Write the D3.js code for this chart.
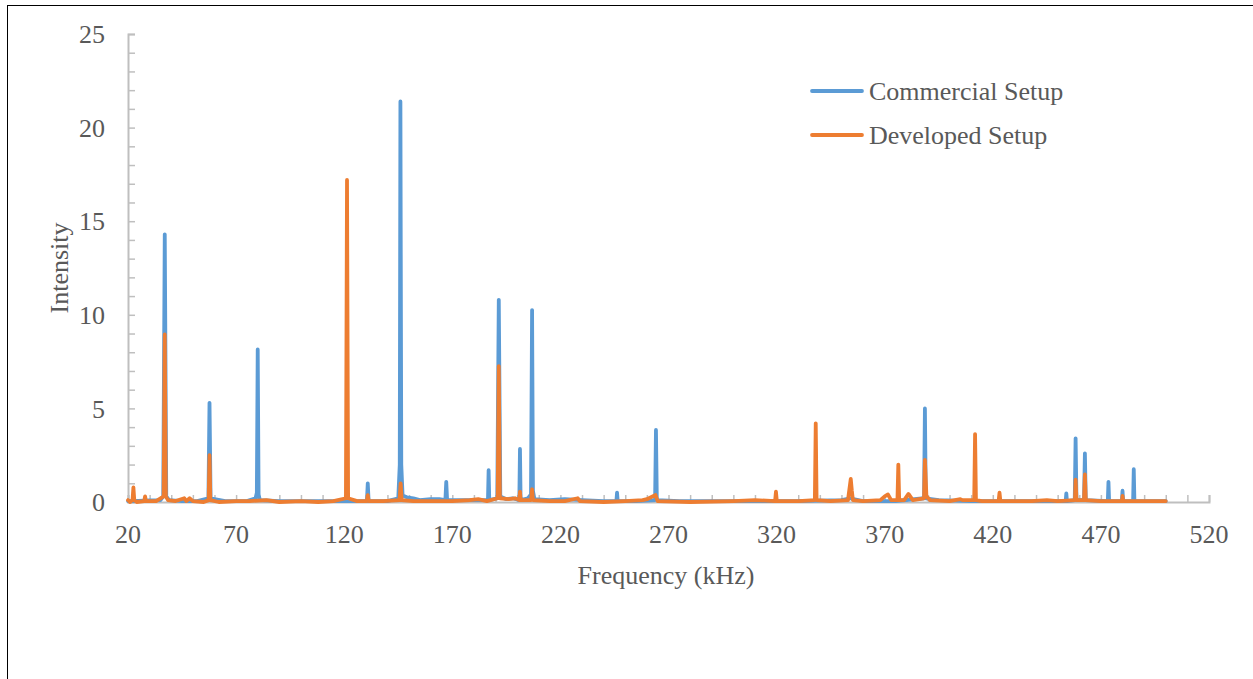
<!DOCTYPE html>
<html>
<head>
<meta charset="utf-8">
<script src="https://cdn.jsdelivr.net/npm/d3@7/dist/d3.min.js"></script>
<style>
  html, body { margin: 0; padding: 0; background: #fff; }
  svg text { font-family: "Liberation Serif", "Times New Roman", serif; fill: #595959; }
</style>
</head>
<body>
<svg id="chart" width="1253" height="679"></svg>
<script>
// ---- Data ----
const seriesNames = ["Commercial Setup", "Developed Setup"];
const xTickLabels = [20, 70, 120, 170, 220, 270, 320, 370, 420, 470, 520];
const yTickLabels = [0, 5, 10, 15, 20, 25];

const commercialFreq = [20,22,30,35,36.3,37,37.7,39,45,52,57.2,57.7,58.2,65,75,79,79.6,80,80.4,81,90,100,110,120,
  130.5,130.9,131.3,140,145,145.7,146,146.4,147,149,152,155,160,164,166.8,167.2,167.6,175,180,186.5,186.8,187.1,
  190.8,191.5,192.2,195,198,201,201.3,201.6,205,206.4,206.9,207.3,208,215,222,230,240,245.9,246.2,246.5,255,
  263.8,264.2,264.6,275,290,310,330,350,354,360,375,388.2,388.6,389,395,410,420,440,453.7,454,454.3,457.9,458.3,
  458.7,462.2,462.6,463,473.2,473.5,473.8,479.7,480,480.3,484.9,485.2,485.5,490,500];
const commercialVal = [0.05,0.05,0.08,0.1,0.3,14.3,0.3,0.1,0.05,0.05,0.2,5.3,0.2,0.05,0.05,0.2,0.5,8.15,0.4,0.1,0.05,0.05,0.05,0.05,
  0.05,1.0,0.05,0.05,0.2,2,21.4,2,0.35,0.25,0.2,0.1,0.15,0.15,0.1,1.08,0.1,0.1,0.1,0.1,1.7,0.1,
  0.2,10.8,0.3,0.15,0.2,0.1,2.83,0.1,0.2,0.4,10.25,0.6,0.15,0.1,0.15,0.1,0.05,0.05,0.5,0.05,0.05,
  0.1,3.85,0.1,0.05,0.05,0.05,0.05,0.1,0.2,0.05,0.05,0.2,5.0,0.2,0.1,0.05,0.05,0.05,0.05,0.46,0.05,0.1,3.4,
  0.1,0.1,2.6,0.1,0.05,1.08,0.05,0.05,0.6,0.05,0.05,1.75,0.05,0.05,0.05];

const developedFreq = [20,21,22.1,22.5,22.9,24,27.5,27.9,28.3,33,36.5,37,37.5,38.5,42,46,47,48.5,50,55,57.3,57.7,58.1,62,70,76,84,90,
  100,108,115,120.8,121.3,121.8,126,130.5,130.9,131.3,138,145.6,146.1,146.6,152,160,170,178,182,186,191,191.5,192,196,199,201,
  201.3,201.6,206.5,206.9,207.3,215,222,228,229,240,250,258,260,264,265,280,300,310,319.3,319.7,320.1,330,337.7,338.1,338.5,345,
  353,354.3,354.8,355.3,360,368,370,371.5,373,375.9,376.3,376.7,379,381,383,388.2,388.6,389.3,391,400,405,406,411.4,411.8,412.2,
  415,422.7,423.1,423.5,430,438,445,450,458,458.3,458.7,462.2,462.6,463,470,479.8,480,480.3,490,500];
const developedVal = [0.1,0,0.1,0.78,0.1,0,0.05,0.3,0.05,0.05,0.3,8.95,0.3,0.1,0.05,0.2,0.05,0.2,0.05,0,0.1,2.5,0.1,0,0.05,0.05,0.1,0,
  0.05,0,0.05,0.2,17.2,0.2,0.05,0.05,0.37,0.05,0.05,0.1,1.0,0.1,0.05,0.05,0.05,0.1,0.15,0.05,0.2,7.26,0.2,0.15,0.2,0.1,
  0.55,0.1,0.1,0.68,0.1,0.05,0.05,0.2,0.05,0,0.05,0.1,0.15,0.37,0.05,0,0.05,0.1,0.05,0.55,0.05,0.05,0.1,4.2,0.1,0.05,
  0.1,1.23,0.6,0.1,0.05,0.1,0.3,0.4,0.1,0.1,2.0,0.1,0.1,0.43,0.1,0.2,2.25,0.3,0.1,0.05,0.15,0.1,0.1,3.63,0.1,
  0.05,0.05,0.5,0.05,0.05,0.05,0.1,0.05,0.1,1.2,0.1,0.1,1.48,0.1,0.05,0.05,0.32,0.05,0.05,0.05];

const colors = ["#5B9BD5", "#ED7D31"];

// ---- Layout ----
const svg = d3.select("#chart");
const x = d3.scaleLinear().domain([20, 520]).range([128, 1209]);
const y = d3.scaleLinear().domain([0, 25]).range([502, 34]);
const fs = 26;

// outer border (top + left)
svg.append("line").attr("x1", 7).attr("x2", 1253).attr("y1", 5.5).attr("y2", 5.5).attr("stroke", "#000").attr("stroke-width", 1);
svg.append("line").attr("x1", 7.5).attr("x2", 7.5).attr("y1", 5).attr("y2", 679).attr("stroke", "#000").attr("stroke-width", 1);

const axisColor = "#BFBFBF";

// y axis: ticks every 1 unit, pointing right
const yAxis = d3.axisRight(y).tickValues(d3.range(0, 26)).tickSize(7).tickFormat("");
const gy = svg.append("g").attr("transform", "translate(128,0)").call(yAxis);
gy.select(".domain").attr("stroke", axisColor).attr("stroke-width", 2);
gy.selectAll(".tick line").attr("stroke", axisColor).attr("stroke-width", 1.5);

// y tick labels
svg.append("g").selectAll("text").data(yTickLabels).join("text")
  .attr("x", 105).attr("y", d => y(d)).attr("dy", "0.35em")
  .attr("text-anchor", "end").attr("font-size", fs).text(d => d);

// x axis: ticks every 10, pointing up
const xAxis = d3.axisTop(x).tickValues(d3.range(20, 521, 10)).tickSize(7).tickFormat("");
const gx = svg.append("g").attr("transform", "translate(0,502)").call(xAxis);
gx.select(".domain").attr("stroke", axisColor).attr("stroke-width", 2);
gx.selectAll(".tick line").attr("stroke", axisColor).attr("stroke-width", 1.5);

svg.append("g").selectAll("text").data(xTickLabels).join("text")
  .attr("x", d => x(d)).attr("y", 534).attr("dy", "0.35em")
  .attr("text-anchor", "middle").attr("font-size", fs).text(d => d);

// axis titles
svg.append("text").attr("x", 666).attr("y", 575).attr("dy", "0.35em")
  .attr("text-anchor", "middle").attr("font-size", fs).text("Frequency (kHz)");
svg.append("text").attr("transform", "translate(59,268) rotate(-90)").attr("dy", "0.35em")
  .attr("text-anchor", "middle").attr("font-size", fs).text("Intensity");

// ---- Series ----
const line = d3.line().x(d => x(d[0])).y(d => y(d[1]));
const series = [
  d3.zip(commercialFreq, commercialVal),
  d3.zip(developedFreq, developedVal)
];
series.forEach((s, i) => {
  svg.append("path").datum(s).attr("d", line)
    .attr("fill", "none").attr("stroke", colors[i]).attr("stroke-width", 3.8)
    .attr("stroke-linejoin", "round").attr("stroke-linecap", "round");
});

// ---- Legend ----
const lg = svg.append("g");
seriesNames.forEach((name, i) => {
  const yy = 91 + i * 44;
  lg.append("line").attr("x1", 812).attr("x2", 862).attr("y1", yy).attr("y2", yy)
    .attr("stroke", colors[i]).attr("stroke-width", 3.8).attr("stroke-linecap", "round");
  lg.append("text").attr("x", 869).attr("y", yy).attr("dy", "0.35em")
    .attr("font-size", fs).text(name);
});
</script>
</body>
</html>
